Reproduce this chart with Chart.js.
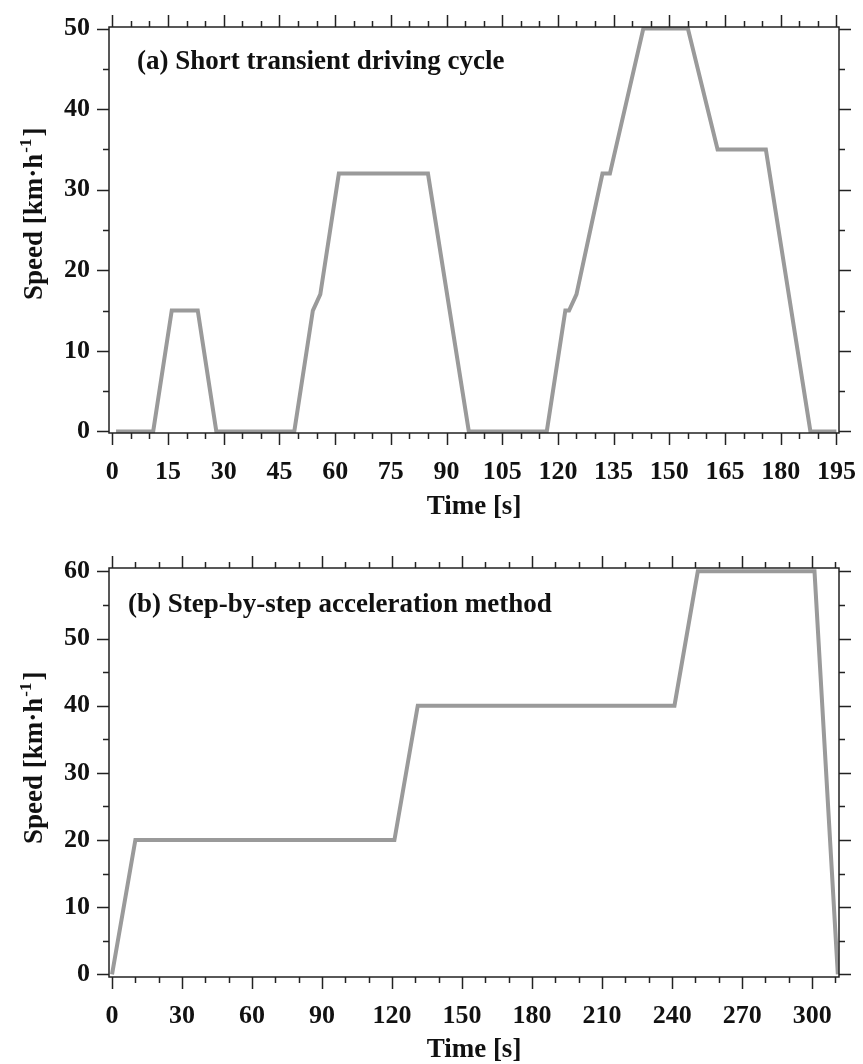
<!DOCTYPE html>
<html>
<head>
<meta charset="utf-8">
<script src="https://cdn.jsdelivr.net/npm/chart.js@4.4.1/dist/chart.umd.min.js"></script>
<style>
  body { margin: 0; background: #fff; }
  #wrap { position: relative; width: 863px; height: 1064px; }
  canvas { position: absolute; left: 0; }
</style>
</head>
<body>
<div id="wrap">
  <canvas id="cycleA" width="863" height="530" style="top:0"></canvas>
  <canvas id="cycleB" width="863" height="534" style="top:530px"></canvas>
</div>
<script>
// (a) short transient driving cycle
const timeA = [1, 11, 16, 23, 28, 49, 54, 56, 61, 85, 96, 117, 122, 123, 125, 132, 134, 143, 155, 163, 176, 188, 195];
const speedA = [0, 0, 15, 15, 0, 0, 15, 17, 32, 32, 0, 0, 15, 15, 17, 32, 32, 50, 50, 35, 35, 0, 0];
const xTicksA = [0, 15, 30, 45, 60, 75, 90, 105, 120, 135, 150, 165, 180, 195];
const yTicksA = [0, 10, 20, 30, 40, 50];

// (b) step-by-step acceleration
const timeB = [0, 10, 121, 131, 241, 251, 301, 311];
const speedB = [0, 20, 20, 40, 40, 60, 60, 0];
const xTicksB = [0, 30, 60, 90, 120, 150, 180, 210, 240, 270, 300];
const yTicksB = [0, 10, 20, 30, 40, 50, 60];

const serif = '"Liberation Serif", "Times New Roman", serif';
const ink = '#111';

// frame box, outward ticks on all four sides, y title and panel caption
const frameTicks = {
    id: 'frameTicks',
    afterDraw(chart, args, opts) {
        const { ctx, chartArea: a, scales: { x, y } } = chart;
        ctx.save();
        ctx.strokeStyle = '#222';
        ctx.lineWidth = 1.5;
        ctx.strokeRect(a.left, a.top, a.right - a.left, a.bottom - a.top);
        ctx.beginPath();
        for (let v = opts.xStart; v <= opts.xEnd + 1e-9; v += opts.xMinor) {
            const len = v % opts.xMajor === 0 ? 12 : 6;
            const px = Math.round(x.getPixelForValue(v)) + 0.5;
            ctx.moveTo(px, a.bottom); ctx.lineTo(px, a.bottom + len);
            ctx.moveTo(px, a.top); ctx.lineTo(px, a.top - len);
        }
        for (let v = opts.yStart; v <= opts.yEnd + 1e-9; v += opts.yMinor) {
            const len = v % opts.yMajor === 0 ? 12 : 6;
            const py = Math.round(y.getPixelForValue(v)) + 0.5;
            ctx.moveTo(a.left, py); ctx.lineTo(a.left - len, py);
            ctx.moveTo(a.right, py); ctx.lineTo(a.right + len, py);
        }
        ctx.stroke();

        ctx.fillStyle = ink;
        ctx.textBaseline = 'alphabetic';
        ctx.textAlign = 'left';
        ctx.font = 'bold 27px ' + serif;
        ctx.fillText(opts.caption, a.left + opts.capX, a.top + opts.capY);

        // y axis title with a raised "-1"
        ctx.translate(42, a.bottom - 133);
        ctx.rotate(-Math.PI / 2);
        const main = 'Speed [km·h';
        ctx.fillText(main, 0, 0);
        let w = ctx.measureText(main).width + 1;
        ctx.font = 'bold 17px ' + serif;
        ctx.fillText('-1', w, -11);
        w += ctx.measureText('-1').width + 2;
        ctx.font = 'bold 27px ' + serif;
        ctx.fillText(']', w, 0);
        ctx.restore();
    }
};

function makeChart(id, xs, ys, xTicks, yTicks, o) {
    const ctx = document.getElementById(id).getContext('2d');
    return new Chart(ctx, {
        type: 'scatter',
        data: {
            datasets: [{
                data: xs.map((t, i) => ({ x: t, y: ys[i] })),
                showLine: true,
                borderColor: '#9a9a9a',
                borderWidth: 4,
                borderJoinStyle: 'miter',
                pointRadius: 0,
                fill: false
            }]
        },
        options: {
            responsive: false,
            animation: false,
            layout: { padding: { top: o.padTop, right: 24, left: 0, bottom: 0 } },
            plugins: {
                legend: { display: false },
                tooltip: { enabled: false },
                frameTicks: o.frame
            },
            scales: {
                x: {
                    type: 'linear',
                    min: o.xMin, max: o.xMax,
                    afterBuildTicks: (s) => { s.ticks = xTicks.map(v => ({ value: v })); },
                    afterFit: (s) => { s.height = o.xHeight; s.paddingLeft = 0; s.paddingRight = 0; },
                    grid: { display: false, drawTicks: false },
                    border: { display: false },
                    ticks: { color: ink, padding: 24, maxRotation: 0, autoSkip: false, font: { family: serif, size: 26, weight: 'bold' } },
                    title: { display: true, text: 'Time [s]', color: ink, padding: { top: 0, bottom: o.titlePad }, font: { family: serif, size: 27, weight: 'bold' } }
                },
                y: {
                    min: o.yMin, max: o.yMax,
                    afterBuildTicks: (s) => { s.ticks = yTicks.map(v => ({ value: v })); },
                    afterFit: (s) => { s.width = 109; s.paddingTop = 0; s.paddingBottom = 0; },
                    grid: { display: false, drawTicks: false },
                    border: { display: false },
                    ticks: { color: ink, padding: 19, font: { family: serif, size: 26, weight: 'bold' } }
                }
            }
        },
        plugins: [frameTicks]
    });
}

makeChart('cycleA', timeA, speedA, xTicksA, yTicksA, {
    padTop: 27, xHeight: 97, titlePad: 7,
    xMin: -0.9, xMax: 195.7, yMin: -0.2, yMax: 50.2,
    frame: { xStart: 0, xEnd: 195, xMinor: 5, xMajor: 15, yStart: 0, yEnd: 50, yMinor: 5, yMajor: 10,
             caption: '(a) Short transient driving cycle', capX: 28, capY: 42 }
});

makeChart('cycleB', timeB, speedB, xTicksB, yTicksB, {
    padTop: 38, xHeight: 87, titlePad: -2,
    xMin: -1.3, xMax: 311.5, yMin: -0.4, yMax: 60.5,
    frame: { xStart: 0, xEnd: 310, xMinor: 10, xMajor: 30, yStart: 0, yEnd: 60, yMinor: 5, yMajor: 10,
             caption: '(b) Step-by-step acceleration method', capX: 19, capY: 44 }
});
</script>
</body>
</html>
